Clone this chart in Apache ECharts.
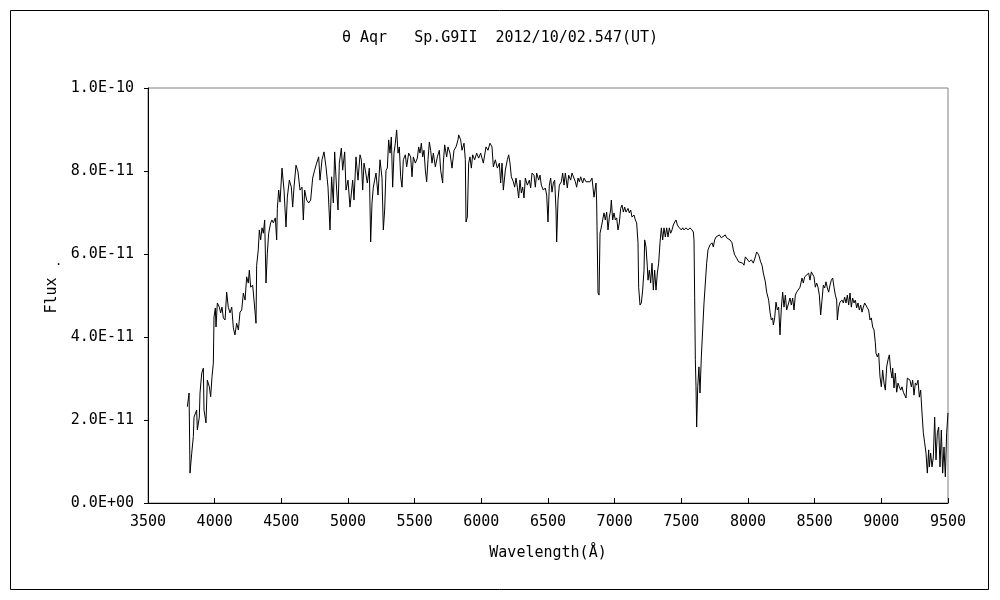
<!DOCTYPE html>
<html>
<head>
<meta charset="utf-8">
<script src="https://cdn.jsdelivr.net/npm/echarts@6/dist/echarts.min.js"></script>
<style>html,body{margin:0;padding:0;background:#fff}#c{width:1000px;height:600px}</style>
</head>
<body>
<div id="c"></div>
<script>
// Wavelength (Å)
const wavelength = [
3795,3808,3815,3828,3840,3845,3865,3870,3885,3890,3903,3915,3920,3935,3945,3960,3970,3980,3990,3995,
4005,4010,4020,4035,4045,4055,4065,4078,4090,4102,4115,4128,4140,4152,4165,4178,4190,4203,4215,4228,
4240,4252,4260,4270,4285,4295,4310,4315,4327,4335,4345,4355,4365,4375,4385,4395,4405,4420,4430,4440,
4455,4465,4470,4480,4490,4505,4520,4535,4545,4560,4575,4585,4595,4610,4625,4640,4655,4665,4675,4690,
4705,4720,4735,4750,4765,4780,4790,4805,4820,4835,4850,4865,4877,4890,4900,4915,4925,4935,4950,4960,
4975,4985,5000,5015,5025,5035,5045,5060,5075,5090,5100,5110,5120,5130,5145,5160,5170,5180,5190,5200,
5210,5225,5240,5255,5265,5275,5285,5295,5305,5315,5325,5335,5345,5355,5365,5375,5385,5395,5405,5415,
5430,5440,5455,5470,5480,5490,5505,5520,5530,5540,5550,5560,5570,5580,5590,5600,5610,5620,5630,5640,
5655,5670,5685,5695,5710,5715,5725,5740,5750,5765,5780,5795,5810,5825,5830,5845,5855,5870,5880,5885,
5895,5905,5915,5925,5935,5950,5965,5980,5995,6015,6035,6050,6065,6080,6090,6105,6120,6135,6145,6155,
6165,6180,6195,6205,6215,6225,6240,6250,6260,6270,6280,6290,6300,6310,6320,6330,6345,6360,6370,6380,
6395,6405,6415,6430,6440,6450,6465,6480,6490,6500,6510,6520,6530,6540,6550,6560,6565,6575,6585,6600,
6610,6620,6630,6645,6655,6670,6680,6695,6705,6715,6725,6735,6745,6760,6770,6785,6800,6815,6830,6845,
6860,6865,6875,6883,6890,6900,6910,6920,6930,6940,6950,6960,6970,6975,6985,6995,7005,7015,7025,7035,
7045,7055,7065,7075,7085,7100,7110,7120,7130,7145,7155,7165,7175,7180,7190,7200,7210,7220,7225,7235,
7245,7250,7260,7270,7280,7290,7300,7310,7320,7330,7340,7350,7360,7370,7380,7390,7400,7410,7420,7430,
7440,7450,7460,7470,7480,7490,7500,7510,7520,7535,7550,7565,7580,7590,7595,7600,7605,7610,7615,7623,
7632,7640,7650,7660,7670,7680,7690,7700,7715,7730,7740,7750,7760,7775,7785,7800,7815,7830,7840,7855,
7865,7880,7890,7900,7915,7930,7945,7960,7970,7980,7995,8010,8025,8040,8055,8065,8080,8095,8105,8115,
8130,8140,8155,8165,8175,8185,8190,8200,8210,8220,8230,8240,8250,8260,8270,8280,8290,8305,8315,8325,
8335,8345,8355,8365,8380,8390,8405,8415,8425,8440,8455,8465,8475,8485,8495,8505,8515,8525,8535,8545,
8555,8565,8575,8585,8595,8605,8615,8625,8635,8645,8655,8665,8670,8680,8690,8705,8715,8725,8735,8745,
8755,8765,8775,8785,8795,8805,8815,8825,8835,8845,8855,8865,8875,8885,8895,8905,8915,8925,8935,8945,
8955,8960,8970,8980,8990,9000,9010,9020,9030,9040,9050,9060,9070,9080,9085,9095,9105,9115,9125,9135,
9145,9155,9165,9175,9185,9195,9205,9215,9225,9235,9245,9255,9265,9275,9285,9295,9305,9315,9325,9335,
9345,9355,9360,9370,9380,9390,9400,9410,9420,9430,9440,9450,9460,9470,9480,9490,9500
];
// Flux in units of 1E-11
const flux = [
2.32,2.65,0.72,1.2,1.6,2.07,2.24,1.76,2.07,2.65,3.13,3.25,2.24,1.93,2.96,2.8,2.56,3.04,3.37,4.48,
4.7,4.24,4.82,4.72,4.58,4.72,4.46,4.41,5.08,4.72,4.58,4.72,4.22,4.05,4.33,4.17,4.6,4.65,5.06,4.89,
5.45,5.3,5.61,5.2,5.25,4.89,4.33,5.73,6.1,6.58,6.34,6.63,6.5,6.82,5.3,6.02,6.5,6.75,6.82,6.75,
6.87,6.34,7.1,7.54,7.25,8.07,7.54,6.65,7.37,7.78,7.61,7.13,7.61,8.14,7.98,7.54,7.61,6.82,7.54,7.3,
7.23,7.3,7.83,8.02,8.19,8.34,7.78,8.27,8.46,8.1,7.61,6.58,7.86,7.23,8.46,7.54,7.06,8.19,8.55,8.02,
8.46,7.54,7.78,7.13,7.1,7.78,7.3,8.34,7.78,8.39,8.27,7.54,8.19,8.02,7.71,8.07,6.29,7.23,7.61,7.78,
7.95,7.42,8.27,7.83,6.58,7.06,8.02,8.07,8.75,8.43,8.82,7.61,8.43,8.67,8.99,8.43,8.58,7.86,7.61,8.27,
8.39,8.1,8.43,8.34,7.86,8.34,8.19,8.31,8.58,8.43,8.67,8.34,8.5,8.02,7.74,8.27,8.7,8.5,8.19,8.43,
8.1,8.34,8.5,8.02,7.71,8.19,8.63,8.34,8.58,8.43,8.07,8.5,8.58,8.75,8.87,8.75,8.5,8.67,8.27,6.77,
6.89,8.19,8.34,8.07,8.39,8.27,8.43,8.31,8.43,8.19,8.58,8.5,8.67,8.58,8.1,8.27,8.07,8.19,7.71,8.19,
7.54,8.02,8.27,8.39,8.19,7.86,7.74,7.61,7.83,7.61,7.35,7.78,7.47,7.61,7.35,7.83,7.66,7.78,7.59,7.95,
7.9,7.61,7.95,7.78,7.9,7.66,7.54,7.59,7.42,6.77,7.66,7.83,7.49,7.71,7.78,7.06,6.29,7.3,7.66,7.74,
7.95,7.66,7.95,7.59,7.9,7.78,7.95,7.98,7.74,7.61,7.83,7.74,7.86,7.71,7.83,7.74,7.78,7.74,7.83,7.37,
7.71,7.23,5.06,5.01,6.5,6.65,6.82,6.99,6.82,7.01,6.58,6.89,7.06,7.3,6.82,6.99,6.82,6.87,6.58,6.75,
7.1,7.18,7.01,7.13,7.01,7.1,6.99,7.06,6.89,6.94,6.82,6.75,6.27,5.2,4.77,4.82,5.13,5.61,6.34,6.17,
5.69,5.37,5.61,5.3,5.78,5.13,5.61,5.13,5.54,5.78,6.27,6.63,6.34,6.63,6.41,6.63,6.41,6.63,6.5,6.58,
6.7,6.77,6.82,6.7,6.65,6.63,6.58,6.63,6.58,6.63,6.58,6.63,6.58,6.53,6.34,4.96,3.45,2.8,1.83,2.8,
3.28,2.65,3.52,4.17,4.82,5.3,5.78,6.1,6.22,6.27,6.17,6.34,6.41,6.39,6.46,6.39,6.41,6.46,6.39,6.39,
6.34,6.27,6.1,5.98,5.9,5.81,5.81,5.78,5.73,5.93,5.9,5.81,5.86,5.78,5.93,6.05,5.98,5.81,5.73,5.54,
5.33,5.08,4.89,4.6,4.41,4.46,4.29,4.46,4.84,4.65,4.72,4.05,4.7,5.08,4.72,5.01,4.65,4.82,4.94,4.77,
4.94,4.65,5.01,5.08,5.06,5.2,5.42,5.3,5.45,5.42,5.54,5.37,5.57,5.54,5.45,5.2,5.3,5.2,5.01,4.53,
4.89,5.25,5.18,5.33,5.18,5.08,5.25,5.37,5.42,5.2,5.01,4.89,4.41,4.72,4.84,4.89,4.82,4.96,4.82,5.01,
4.77,5.06,4.72,4.94,4.82,4.89,4.7,4.82,4.65,4.77,4.6,4.72,4.82,4.84,4.7,4.65,4.41,4.46,4.24,4.17,
3.86,3.61,3.52,3.61,3.04,2.8,3.2,2.89,2.72,3.28,3.45,3.57,3.2,3.01,3.25,2.77,3.13,2.67,2.89,2.8,
2.72,2.8,2.67,2.6,2.53,3.01,3.04,2.96,2.8,2.96,2.6,2.89,2.84,2.96,2.55,2.72,2.17,1.69,1.45,1.2,
0.72,1.28,0.87,1.2,0.87,1.11,2.07,1.04,1.69,1.83,0.87,1.76,0.72,1.35,0.63,1.69,2.17
];
const xTickLabels = ['3500','4000','4500','5000','5500','6000','6500','7000','7500','8000','8500','9000','9500'];
const yTickValues = [0, 2, 4, 6, 8, 10];
const yTickLabels = ['0.0E+00','2.0E-11','4.0E-11','6.0E-11','8.0E-11','1.0E-10'];

const FONT = '"DejaVu Sans Mono", "Liberation Mono", monospace';
const seriesData = wavelength.map((w, i) => [w, flux[i]]);

const chart = echarts.init(document.getElementById('c'), null, {renderer: 'canvas'});
chart.setOption({
  animation: false,
  backgroundColor: '#ffffff',
  title: {
    text: 'θ Aqr   Sp.G9II  2012/10/02.547(UT)',
    left: 'center',
    top: 26,
    textStyle: {fontFamily: FONT, fontSize: 15, fontWeight: 'normal', color: '#000'}
  },
  grid: {left: 148, right: 52, top: 88, bottom: 97, show: true, borderColor: '#808080', borderWidth: 1, backgroundColor: 'transparent'},
  xAxis: {
    type: 'value', min: 3500, max: 9500, interval: 500,
    name: 'Wavelength(Å)', nameLocation: 'middle', nameGap: 43,
    nameTextStyle: {fontFamily: FONT, fontSize: 15, color: '#000'},
    axisLine: {show: true, onZero: false, lineStyle: {color: '#000', width: 1}},
    axisTick: {show: true, inside: true, length: 5, lineStyle: {color: '#000'}},
    axisLabel: {margin: 12, fontFamily: FONT, fontSize: 15, color: '#000',
      formatter: v => xTickLabels[Math.round((v - 3500) / 500)]},
    splitLine: {show: false}
  },
  yAxis: {
    type: 'value', min: 0, max: 10, interval: 2,
    name: 'Flux', nameLocation: 'middle', nameGap: 88, nameRotate: 90,
    nameTextStyle: {fontFamily: FONT, fontSize: 15, color: '#000'},
    axisLine: {show: true, lineStyle: {color: '#000', width: 1}},
    axisTick: {show: true, inside: false, length: 4, lineStyle: {color: '#000'}},
    axisLabel: {margin: 14, fontFamily: FONT, fontSize: 15, color: '#000',
      formatter: v => yTickLabels[yTickValues.indexOf(v)]},
    splitLine: {show: false}
  },
  series: [{
    type: 'line',
    data: seriesData,
    showSymbol: false,
    symbol: 'none',
    lineStyle: {color: '#000', width: 1},
    silent: true
  }],
  graphic: [
    {type: 'rect', shape: {x: 10.5, y: 10.5, width: 978, height: 579}, style: {fill: 'none', stroke: '#000', lineWidth: 1}, silent: true},
    {type: 'text', left: 55, top: 256, style: {text: '.', fontFamily: FONT, fontSize: 12, fill: '#000'}}
  ]
});
</script>
</body>
</html>
